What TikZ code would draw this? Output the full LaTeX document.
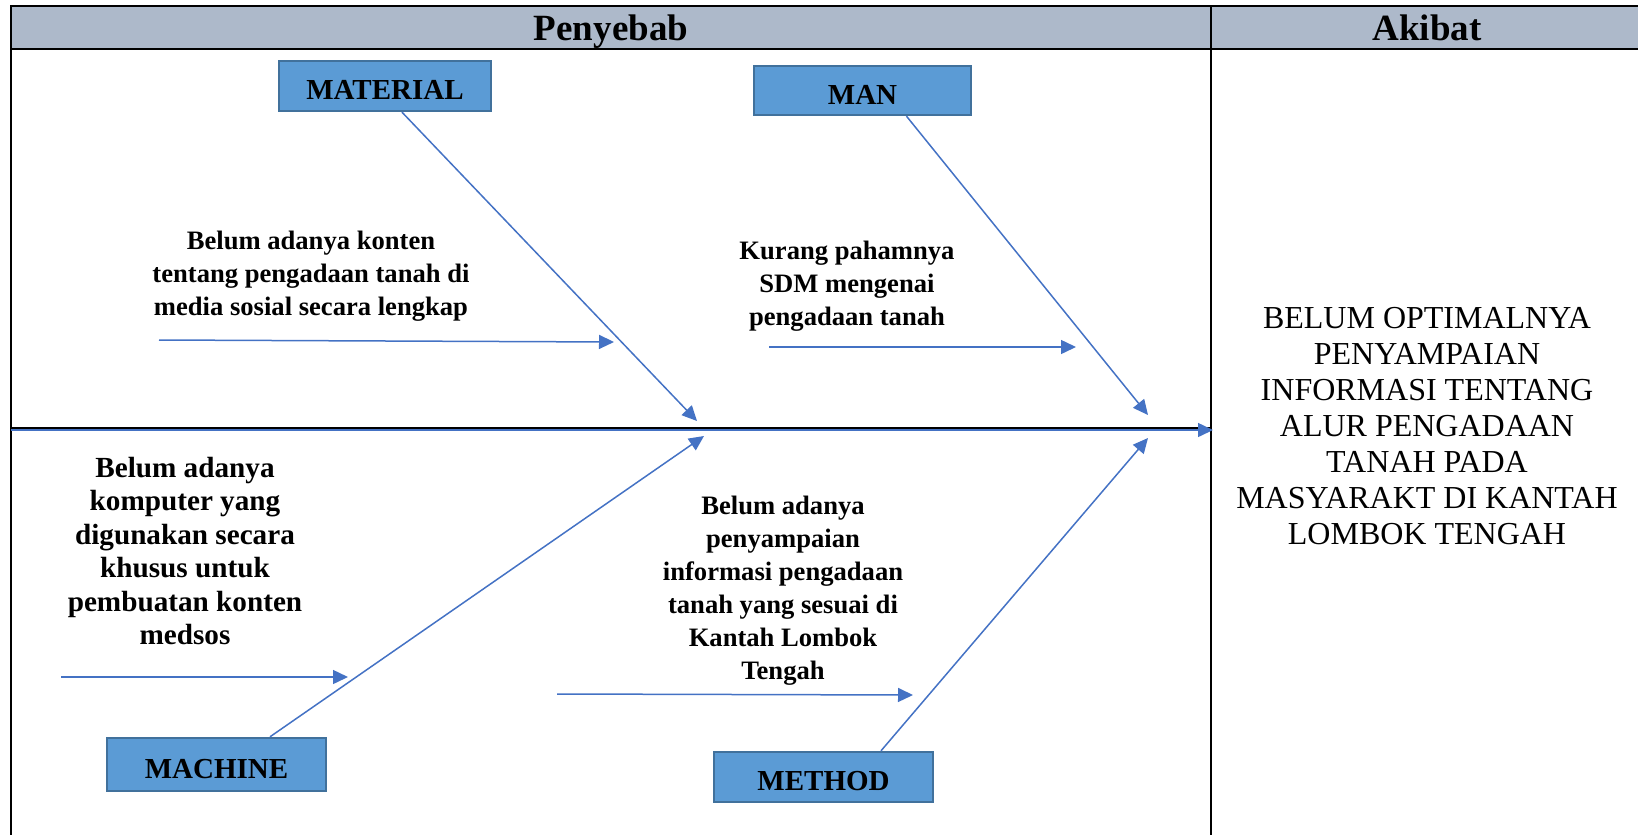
\documentclass[tikz,border=0pt]{standalone}
\usepackage{fontspec}
\setmainfont{Liberation Serif}
\usetikzlibrary{positioning,arrows.meta}
\definecolor{headColor}{RGB}{173,185,202}
\definecolor{boxColor}{RGB}{91,155,213}
\definecolor{boxLine}{RGB}{65,113,156}
\definecolor{boneColor}{RGB}{68,114,196}

\begin{document}
\begin{tikzpicture}[x=0.5pt,y=-0.5pt]
  	\tikzstyle{cat} = [rectangle,draw=boxLine,line width=1.2pt,fill=boxColor,inner sep=0pt,font=\fontsize{14.5}{17}\selectfont\bfseries,text height=13.6pt,text depth=0pt]
  	\tikzstyle{cause} = [align=center,inner sep=0pt,font=\fontsize{13.3}{16.5}\selectfont\bfseries]
  	\tikzstyle{title} = [anchor=base,inner sep=0pt,font=\fontsize{18.5}{22}\selectfont\bfseries]
  	\tikzstyle{bone} = [draw=boneColor,line width=0.75pt,->]
  	\tikzstyle{grid} = [draw=black,line width=1.2pt]
  	\tikzset{>={Triangle[length=7.5pt,width=7pt]}}

	  \useasboundingbox (0,0) rectangle (1638,835);

	  % table
	  \fill[headColor] (11,6) rectangle (1650,49);
	  \draw[grid] (1650,6) -- (11,6) -- (11,840);
	  \draw[grid] (11,49) -- (1650,49);
	  \draw[grid] (1211,6) -- (1211,840);
	  \node [title] (penyebab) at (611,40) {Penyebab};
	  \node [title] (akibat) at (1427,40) {Akibat};

	  \node [align=center,font=\fontsize{16}{18}\selectfont] (effect) at (1427,426)
	    {BELUM OPTIMALNYA\\PENYAMPAIAN\\INFORMASI TENTANG\\ALUR PENGADAAN\\TANAH PADA\\MASYARAKT DI KANTAH\\LOMBOK TENGAH};

	  % spine
	  \coordinate (tail) at (11,430);
	  \coordinate (head) at (1213,430);
	  \draw [black,line width=1pt] (11,428) -- (1211,428);
	  \draw [bone] (tail) -- (head);

	  % categories
	  \node [cat, minimum width=106pt, minimum height=25pt] (material) at (385,86) {MATERIAL};
	  \node [cat, minimum width=108.5pt, minimum height=24.5pt] (man) at (862.5,90.5) {MAN};
	  \node [cat, minimum width=109.5pt, minimum height=26.5pt] (machine) at (216.5,764.5) {MACHINE};
	  \node [cat, minimum width=109.5pt, minimum height=25pt] (method) at (823.5,777) {METHOD};

	  \coordinate (matTip) at (697,421);
	  \coordinate (manTip) at (1148,415);
	  \coordinate (machTip) at (704,436);
	  \coordinate (methTip) at (1148,438);

		\draw [bone] ([xshift=8.5pt]material.south) -- (matTip);
		\draw [bone] ([xshift=22pt]man.south) -- (manTip);
		\draw [bone] ([xshift=26.75pt]machine.north) -- (machTip);
		\draw [bone] ([xshift=28.75pt]method.north) -- (methTip);

	  % causes
	  \node [cause] (matCause) at (311,276) {Belum adanya konten\\tentang pengadaan tanah di\\media sosial secara lengkap};
	  \node [cause] (manCause) at (847,286) {Kurang pahamnya\\SDM mengenai\\pengadaan tanah};
	  \node [cause, font=\fontsize{14.6}{16.75}\selectfont\bfseries] (machCause) at (185,551)
	    {Belum adanya\\komputer yang\\digunakan secara\\khusus untuk\\pembuatan konten\\medsos};
	  \node [cause] (methCause) at (783,591)
	    {Belum adanya\\penyampaian\\informasi pengadaan\\tanah yang sesuai di\\Kantah Lombok\\Tengah};

	  \coordinate (matStart) at (159,340);
	  \coordinate (matEnd) at (614,342);
	  \coordinate (manStart) at (769,347);
	  \coordinate (manEnd) at (1076,347);
	  \coordinate (machStart) at (61,677);
	  \coordinate (machEnd) at (348,677);
	  \coordinate (methStart) at (557,694);
	  \coordinate (methEnd) at (913,695);

		\draw [bone] (matStart) -- (matEnd);
		\draw [bone] (manStart) -- (manEnd);
		\draw [bone] (machStart) -- (machEnd);
		\draw [bone] (methStart) -- (methEnd);
\end{tikzpicture}
\end{document}
